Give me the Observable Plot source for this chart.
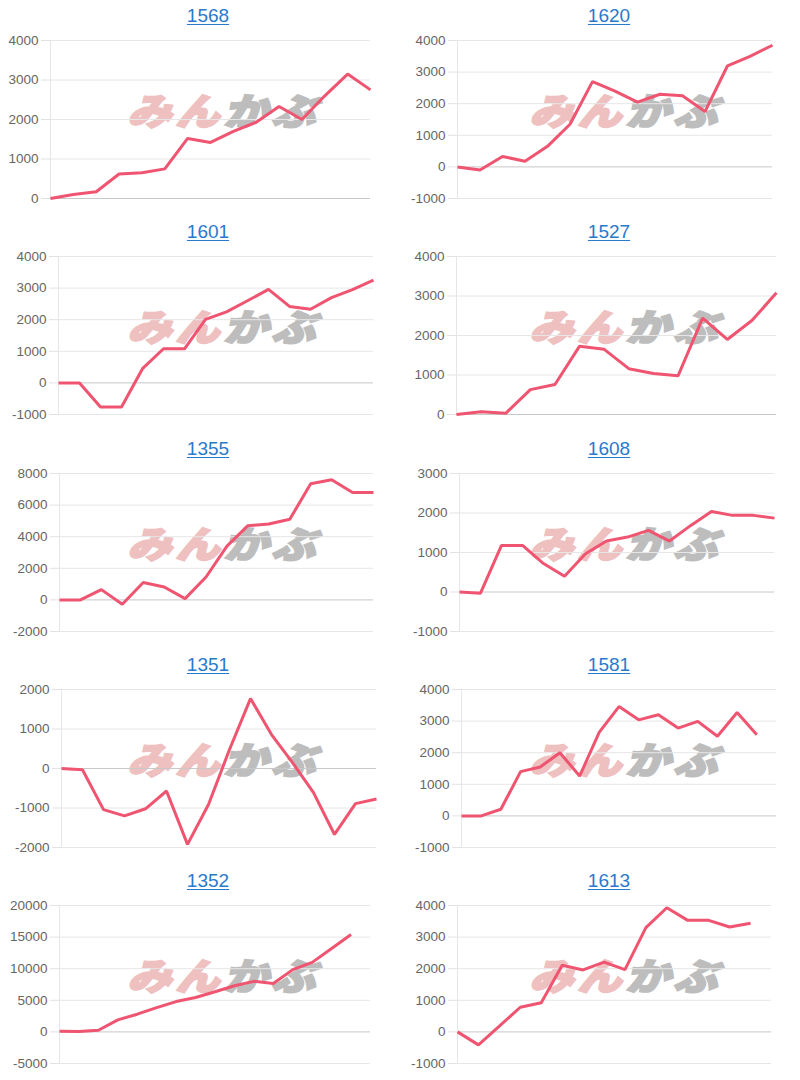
<!DOCTYPE html>
<html>
<head>
<meta charset="utf-8">
<script src="https://cdn.jsdelivr.net/npm/d3@7"></script>
<script src="https://cdn.jsdelivr.net/npm/@observablehq/plot@0.6"></script>
<style>
  html, body { margin: 0; padding: 0; background: #fff; }
  body { width: 800px; height: 1080px; overflow: hidden; font-family: "Liberation Sans", Arial, sans-serif; }
  #root { position: relative; width: 800px; height: 1080px; }
  .title { position: absolute; height: 32px; line-height: 32px; text-align: center; font-size: 19px; }
  .title a { color: #2a7acc; text-decoration: underline; text-underline-offset: 2px; }
  .wm { position: absolute; width: 210px; height: 44px; font-family: "Noto Sans CJK JP", sans-serif; font-weight: 900;
        font-size: 44px; line-height: 44px; white-space: nowrap; transform: skewX(-16deg) scaleY(0.84); transform-origin: 0 50%; letter-spacing: 4px; }
  .wm .mn { color: #eec0c0; -webkit-text-stroke: 2.5px #eec0c0; }
  .wm .kb { color: #bdbdbd; -webkit-text-stroke: 2.5px #bdbdbd; }
  .chart { position: absolute; }
</style>
</head>
<body>
<div id="root"></div>
<script>
// ---- data ----
const titles = ["1568", "1620", "1601", "1527", "1355", "1608", "1351", "1581", "1352", "1613"];

const s1568 = [0, 100, 170, 620, 650, 750, 1520, 1420, 1700, 1930, 2330, 2000, 2600, 3150, 2750];
const s1620 = [0, -100, 330, 180, 650, 1350, 2700, 2400, 2050, 2300, 2250, 1750, 3200, 3500, 3850];
const s1601 = [0, 0, -760, -760, 450, 1080, 1080, 2010, 2250, 2600, 2960, 2420, 2330, 2700, 2950, 3250];
const s1527 = [0, 70, 30, 630, 760, 1730, 1650, 1160, 1040, 980, 2440, 1900, 2380, 3080];
const s1355 = [0, 0, 650, -280, 1100, 820, 80, 1450, 3400, 4700, 4800, 5100, 7350, 7600, 6800, 6800];
const s1608 = [0, -30, 1180, 1180, 720, 400, 970, 1290, 1390, 1560, 1290, 1680, 2040, 1940, 1940, 1870];
const s1351 = [0, -30, -1040, -1200, -1020, -570, -1920, -910, 480, 1770, 860, 150, -610, -1670, -890, -770];
const s1581 = [0, 0, 210, 1400, 1550, 2000, 1260, 2650, 3460, 3040, 3200, 2780, 2990, 2520, 3270, 2570, null];
const s1352 = [100, 50, 260, 1900, 2800, 3850, 4800, 5450, 6350, 7300, 8000, 7650, 9850, 11000, 13200, 15400, null];
const s1613 = [0, -410, 180, 780, 920, 2110, 1960, 2210, 1970, 3300, 3930, 3530, 3530, 3320, 3440, null];

const series = [s1568, s1620, s1601, s1527, s1355, s1608, s1351, s1581, s1352, s1613];

const yMin  = [0, -1000, -1000, 0, -2000, -1000, -2000, -1000, -5000, -1000];
const yMax  = [4000, 4000, 4000, 4000, 8000, 3000, 2000, 4000, 20000, 4000];
const yStep = [1000, 1000, 1000, 1000, 2000, 1000, 1000, 1000, 5000, 1000];

// ---- layout ----
const plotLeft  = [50, 457, 58, 456, 59, 459, 61, 461, 59, 457];
const plotRight = [370, 772, 373, 776, 373, 774, 376, 776, 370, 771];
const rowTop = [0, 216, 433, 649, 865];
const PLOT_H = 158, M_TOP = 12, M_BOTTOM = 8;
const LINE_COLOR = "#ef5470";

const root = document.getElementById("root");

titles.forEach((t, i) => {
  const col = i % 2, row = Math.floor(i / 2);
  const x0 = col * 400;
  const top = rowTop[row];

  // title
  const td = document.createElement("div");
  td.className = "title";
  td.style.left = (col ? 400 : 0) + "px";
  td.style.width = (col ? 418 : 416) + "px";
  td.style.top = top + "px";
  td.innerHTML = `<a href="#">${t}</a>`;
  root.appendChild(td);

  // watermark
  const wm = document.createElement("div");
  wm.className = "wm";
  wm.style.left = (x0 + (col ? 134 : 132)) + "px";
  wm.style.top = (top + 87) + "px";
  wm.innerHTML = `<span class="mn">みん</span><span class="kb">かぶ</span>`;
  root.appendChild(wm);

  // chart
  const vals = series[i];
  const n = vals.length;
  const data = vals.map((v, k) => ({k, v}));
  const ticks = d3.range(yMin[i], yMax[i] + yStep[i] / 2, yStep[i]);
  const chart = Plot.plot({
    width: 400,
    height: M_TOP + PLOT_H + M_BOTTOM,
    marginLeft: plotLeft[i] - x0,
    marginRight: x0 + 400 - plotRight[i],
    marginTop: M_TOP,
    marginBottom: M_BOTTOM,
    style: {background: "transparent", fontFamily: "'Liberation Sans', Arial, sans-serif", fontSize: "13.5px", color: "#666"},
    x: {domain: [0, n - 1], axis: null},
    y: {domain: [yMin[i], yMax[i]], ticks, label: null, axis: null},
    marks: [
      Plot.ruleY(ticks.filter(d => d !== 0), {stroke: "#e6e6e6", strokeWidth: 1}),
      Plot.ruleY(ticks.filter(d => d === 0), {stroke: "#c8c8c8", strokeWidth: 1}),
      Plot.ruleX([0], {stroke: "#e6e6e6"}),
      Plot.axisY(ticks, {
        tickSize: 9, tickPadding: 3, stroke: "#e2e2e2", fill: "#666",
        fontSize: 13.5, tickFormat: d => String(d), label: null
      }),
      Plot.line(data, {
        x: "k", y: "v", stroke: LINE_COLOR, strokeWidth: 3,
        strokeLinejoin: "miter", strokeLinecap: "butt"
      })
    ]
  });
  chart.classList.add("chart");
  chart.style.left = x0 + "px";
  chart.style.top = (top + 40 - M_TOP) + "px";
  root.appendChild(chart);
});
</script>
</body>
</html>
